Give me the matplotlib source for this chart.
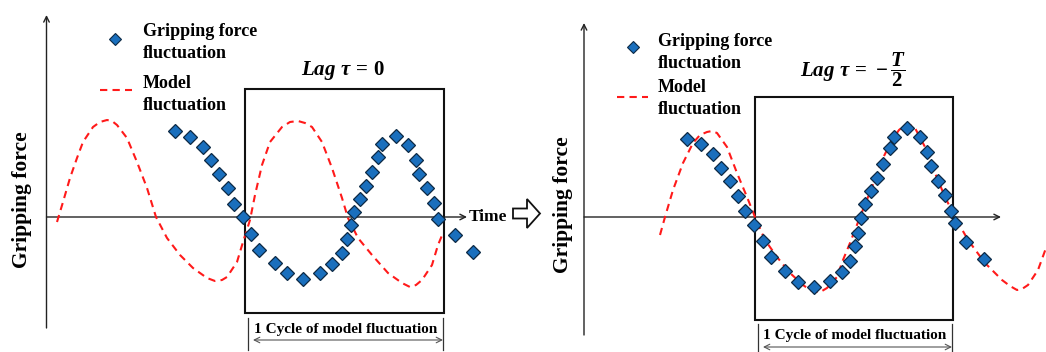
import numpy as np
import matplotlib.pyplot as plt
from matplotlib.patches import Rectangle, FancyArrow

plt.rcParams['font.family'] = ['Liberation Serif', 'DejaVu Serif']
plt.rcParams['font.weight'] = 'bold'
plt.rcParams['mathtext.fontset'] = 'custom'
plt.rcParams['mathtext.rm'] = 'Liberation Serif:bold'
plt.rcParams['mathtext.it'] = 'Liberation Serif:bold:italic'
plt.rcParams['mathtext.bf'] = 'Liberation Serif:bold'

# schematic drawn in figure pixel units (x right, y down)
# lag = 0 panel
model0_x = [57, 63, 70, 77, 83, 93, 100, 107, 112, 117, 127, 137, 147, 156, 167, 180, 193, 207, 215, 222,
            227, 237, 243, 250, 255, 262, 270, 282, 290, 298, 305, 312, 322, 332, 342, 348, 358, 372, 388,
            402, 410, 416, 422, 432, 438, 443]
model0_y = [222, 202, 178, 158, 142, 127, 122, 120, 121, 125, 138, 162, 188, 217, 238, 255, 268, 278, 281, 280,
            277, 262, 242, 220, 195, 165, 142, 127, 122, 121, 123, 127, 142, 168, 198, 218, 238, 255, 273,
            283, 287, 285, 280, 265, 245, 233]
grip0_x = [175, 190, 203, 211, 219, 228, 234, 243, 251, 259, 275, 287, 303, 320, 332, 342, 347, 351, 354,
           360, 366, 372, 378, 382, 396, 408, 416, 419, 427, 434, 438, 455, 473]
grip0_y = [131, 137, 147, 160, 174, 188, 204, 217, 234, 250, 263, 273, 279, 273, 264, 253, 239, 225, 212,
           199, 186, 172, 157, 144, 136, 145, 160, 174, 188, 203, 219, 235, 252]

# lag = -T/2 panel
model1_x = [660, 665, 673, 683, 693, 700, 707, 712, 717, 727, 737, 747, 755, 765, 777, 790, 803, 810, 817,
            822, 827, 837, 843, 850, 860, 872, 882, 892, 899, 905, 910, 915, 925, 935, 945, 955, 968, 985,
            1002, 1010, 1017, 1022, 1028, 1038, 1046]
model1_y = [235, 217, 190, 163, 143, 135, 132, 131, 133, 147, 173, 197, 217, 240, 257, 273, 285, 290, 292,
            291, 288, 277, 260, 243, 217, 187, 160, 140, 130, 125, 125, 128, 147, 173, 197, 217, 240, 263,
            280, 286, 290, 289, 285, 270, 248]
grip1_x = [687, 701, 713, 721, 730, 738, 745, 754, 763, 771, 785, 798, 814, 830, 842, 850, 855, 858, 861,
           865, 871, 877, 883, 890, 894, 907, 920, 927, 931, 938, 945, 951, 955, 966, 984]
grip1_y = [139, 144, 154, 168, 181, 196, 211, 225, 241, 257, 271, 282, 287, 281, 272, 261, 246, 233, 218,
           204, 191, 178, 164, 148, 137, 128, 137, 152, 166, 181, 195, 211, 223, 242, 259]

titles = [r'$Lag\ \tau\,=\,0$', r'$Lag\ \tau\,=\,-\dfrac{T}{2}$']
legend_labels = ['Gripping force\nfluctuation', 'Model\nfluctuation']
ylabel = 'Gripping force'
cycle_label = '1 Cycle of model fluctuation'

blue = '#1a6fbd'
red = '#ff1a1a'

fig = plt.figure(figsize=(10.46, 3.52), dpi=100)
ax = fig.add_axes([0, 0, 1, 1])
ax.set_xlim(0, 1046)
ax.set_ylim(352, 0)
ax.axis('off')

panels = [
    dict(mx=model0_x, my=model0_y, gx=grip0_x, gy=grip0_y, title=titles[0],
         yax=(46.5, 328, 15), xax=(217, 46.5, 467), box=(245, 89, 444, 313),
         leg=(115, 39, 100, 132, 90, 143, 42.5, 94.5), ylab=(22, 200), tpos=(343, 70),
         brk=(248, 443, 318, 350, 330, 340)),
    dict(mx=model1_x, my=model1_y, gx=grip1_x, gy=grip1_y, title=titles[1],
         yax=(584, 335, 23), xax=(217, 584, 1001), box=(755, 97, 953, 320),
         leg=(633, 47, 617, 648, 97, 658, 52.5, 98.5), ylab=(563, 205), tpos=(853, 70),
         brk=(758, 952, 324, 352, 336, 347)),
]

for p in panels:
    # axes with arrow heads
    x0, yb, yt = p['yax']
    ax.annotate('', xy=(x0, yt), xytext=(x0, yb),
                arrowprops=dict(arrowstyle='->', lw=1.0, color='#222222', shrinkA=0, shrinkB=0))
    y0, xl, xr = p['xax']
    ax.annotate('', xy=(xr, y0), xytext=(xl, y0),
                arrowprops=dict(arrowstyle='->', lw=1.0, color='#222222', shrinkA=0, shrinkB=0))

    # one-cycle box
    bx0, by0, bx1, by1 = p['box']
    ax.add_patch(Rectangle((bx0, by0), bx1 - bx0, by1 - by0, fill=False, ec='#111111', lw=1.5, zorder=2))

    ax.plot(p['mx'], p['my'], ls=(0, (3.5, 2.5)), color=red, lw=1.5, zorder=3)
    ax.plot(p['gx'], p['gy'], ls='none', marker='D', ms=7.4, mfc=blue, mec='#0d2a45', mew=0.9, zorder=4)

    # legend
    dx, dy, lx0, lx1, ly, tx, ty0, ty1 = p['leg']
    ax.plot([dx], [dy], ls='none', marker='D', ms=6, mfc=blue, mec='#0d2a45', mew=0.8)
    ax.plot([lx0, lx1], [ly, ly], ls=(0, (3.5, 2.5)), color=red, lw=1.5)
    ax.text(tx, ty0, legend_labels[0], fontsize=13, va='center', ha='left', linespacing=1.35)
    ax.text(tx, ty1, legend_labels[1], fontsize=13, va='center', ha='left', linespacing=1.35)

    ax.text(p['ylab'][0], p['ylab'][1], ylabel, fontsize=15.5, rotation=90, ha='center', va='center')
    ax.text(p['tpos'][0], p['tpos'][1], p['title'], fontsize=15, ha='center', va='center')

    # cycle bracket
    cx0, cx1, cy0, cy1, ty, ay = p['brk']
    ax.plot([cx0, cx0], [cy0, cy1], color='#333333', lw=0.9)
    ax.plot([cx1, cx1], [cy0, cy1], color='#333333', lw=0.9)
    ax.text((cx0 + cx1) / 2, ty, cycle_label, fontsize=11, ha='center', va='center')
    ax.annotate('', xy=(cx1, ay), xytext=(cx0 + 5, ay),
                arrowprops=dict(arrowstyle='<->', lw=0.8, color='#555555', shrinkA=0, shrinkB=0))

ax.text(469, 217, 'Time', fontsize=12.5, ha='left', va='center')

# hollow arrow between panels
ax.add_patch(FancyArrow(513, 213.5, 27, 0, width=10, head_width=29, head_length=13,
                        length_includes_head=True, fc='white', ec='#111111', lw=1.3))

fig.savefig('out.png', dpi=100)
